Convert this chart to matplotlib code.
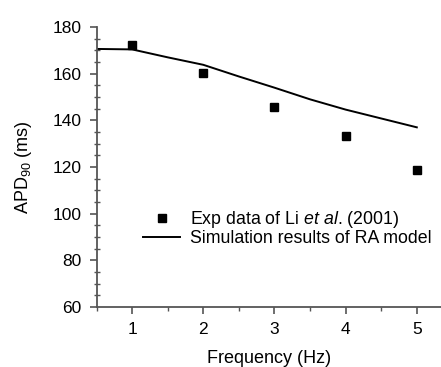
import matplotlib.pyplot as plt
from matplotlib.ticker import MultipleLocator

# Exp data of Li et al. (2001)
exp_freq = [1, 2, 3, 4, 5]
exp_apd = [172.3, 160.2, 145.6, 133.4, 118.6]

# simulation results of RA model
sim_freq = [0.5, 1.0, 1.5, 2.0, 2.5, 3.0, 3.5, 4.0, 4.5, 5.0]
sim_apd = [170.6, 170.4, 167.0, 163.8, 158.8, 154.0, 149.0, 144.6, 140.8, 137.0]

plt.rcParams['font.family'] = ['Liberation Sans', 'DejaVu Sans']
plt.rcParams['mathtext.fontset'] = 'custom'
plt.rcParams['mathtext.rm'] = 'Liberation Sans'
plt.rcParams['mathtext.it'] = 'Liberation Sans:italic'

fig = plt.figure(figsize=(4.41, 3.67), dpi=100)
ax = fig.add_axes([96.5 / 441, 1 - 307 / 367, 1 - 96.5 / 441, (307 - 27) / 367])

ax.plot(exp_freq, exp_apd, ls='none', marker='s', ms=5.5, color='black',
        label='Exp data of Li $\\it{et}$ $\\it{al}$. (2001)')
ax.plot(sim_freq, sim_apd, color='black', lw=1.4, label='Simulation results of RA model')

ax.set_xlim(0.5, 5.34)
ax.set_ylim(60, 180)
ax.xaxis.set_major_locator(MultipleLocator(1))
ax.xaxis.set_minor_locator(MultipleLocator(0.5))
ax.yaxis.set_major_locator(MultipleLocator(20))
ax.yaxis.set_minor_locator(MultipleLocator(5))

for s in ['top', 'right']:
    ax.spines[s].set_visible(False)
for s in ['left', 'bottom']:
    ax.spines[s].set_color('#555555')
    ax.spines[s].set_linewidth(1.3)

ax.tick_params(which='major', direction='out', length=5, width=1.2, color='#555555',
               labelsize=12.5, pad=6)
ax.tick_params(which='minor', direction='inout', length=4, width=1.0, color='#555555')
ax.tick_params(axis='x', which='minor', direction='out', length=3)

ax.set_xlabel('Frequency (Hz)', fontsize=13, labelpad=9)
ax.set_ylabel('APD$_{90}$ (ms)', fontsize=13, labelpad=13)

ax.legend(loc='upper left', bbox_to_anchor=(0.135, 0.35), frameon=False, fontsize=12.8,
          handlelength=2.1, handletextpad=0.55, labelspacing=0.0, borderaxespad=0,
          borderpad=0)

fig.savefig('out.png', dpi=100)
